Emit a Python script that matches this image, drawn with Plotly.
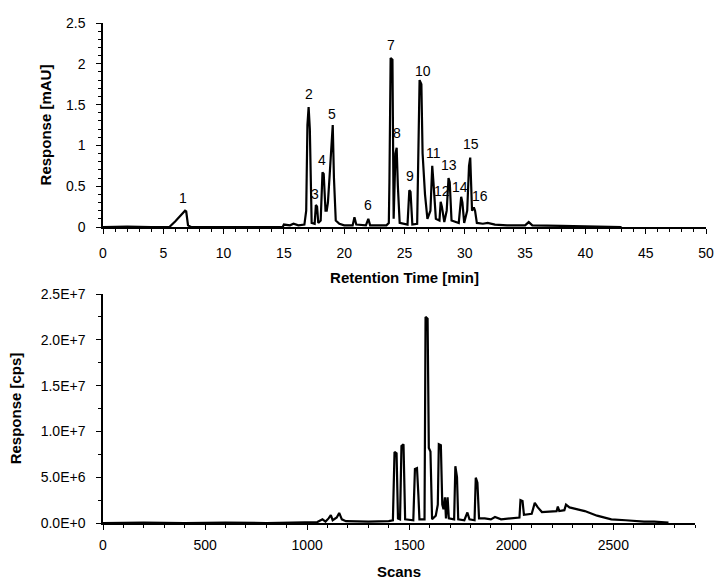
import plotly.graph_objects as go

# UV chromatogram (top panel): retention time [min] vs response [mAU]
uv_time = [0, 2, 4, 5.5, 6.0, 6.5, 6.8, 6.9, 7.05, 7.3, 10, 14.9, 15.0, 15.5, 15.8, 16.2, 16.7,
           16.85, 16.95, 17.05, 17.15, 17.3, 17.55, 17.65, 17.75, 17.85, 18.05, 18.2, 18.3, 18.45,
           18.55, 18.65, 18.8, 18.95, 19.05, 19.15, 19.3, 19.6, 20.0, 20.7, 20.85, 21.0, 21.8, 22.0,
           22.15, 23.5, 23.7, 23.75, 23.85, 24.0, 24.1, 24.25, 24.35, 24.45, 24.6, 25.25, 25.4, 25.5,
           25.65, 26.05, 26.25, 26.4, 26.5, 26.7, 26.9, 27.15, 27.3, 27.4, 27.6, 27.9, 28.0, 28.1,
           28.3, 28.5, 28.65, 28.75, 28.9, 29.5, 29.7, 29.8, 29.95, 30.2, 30.35, 30.45, 30.6, 30.75,
           30.85, 31.0, 31.5, 31.9, 32.5, 33.5, 35.0, 35.3, 35.6, 38, 39, 43]
uv_resp = [0, 0.005, 0, 0, 0.07, 0.15, 0.2, 0.19, 0.02, 0, 0, 0, 0.03, 0.02, 0.04, 0.02, 0.03,
           0.2, 1.25, 1.47, 1.2, 0.05, 0.04, 0.27, 0.25, 0.05, 0.08, 0.67, 0.65, 0.2,
           0.2, 0.3, 0.65, 1.1, 1.25, 0.6, 0.08, 0.04, 0.02, 0.02, 0.12, 0.03, 0.02, 0.1,
           0.02, 0.02, 0.05, 0.55, 2.07, 2.05, 0.1, 0.9, 0.97, 0.5, 0.05, 0.03, 0.45, 0.43,
           0.03, 0.04, 1.8, 1.75, 0.9, 0.4, 0.1, 0.2, 0.75, 0.55, 0.1, 0.08, 0.31, 0.25,
           0.06, 0.2, 0.6, 0.55, 0.08, 0.05, 0.37, 0.3, 0.05, 0.2, 0.75, 0.85, 0.2, 0.24,
           0.2, 0.05, 0.04, 0.05, 0.03, 0.02, 0.02, 0.06, 0.02, 0.015, 0.01, 0]

# peak numbers and where they are written
peak_num = ["1", "2", "3", "4", "5", "6", "7", "8", "9", "10", "11", "12", "13", "14", "15", "16"]
peak_x = [6.65, 17.05, 17.6, 18.2, 19.0, 22.0, 23.85, 24.35, 25.45, 26.5, 27.4, 28.1, 28.7, 29.6, 30.5, 31.3]
peak_y = [0.35, 1.63, 0.40, 0.82, 1.39, 0.27, 2.23, 1.15, 0.63, 1.91, 0.91, 0.44, 0.76, 0.49, 1.02, 0.38]

# MS total ion trace (bottom panel): scan number vs response [cps]
ms_scan = [0, 200, 400, 600, 800, 1000, 1050, 1075, 1090, 1105, 1116, 1125, 1145, 1157, 1170, 1190,
           1300, 1400, 1420, 1428, 1438, 1445, 1455, 1462, 1472, 1480, 1520, 1528, 1538, 1545, 1550,
           1575, 1580, 1590, 1596, 1604, 1612, 1630, 1640, 1645, 1655, 1662, 1668, 1675, 1680, 1688,
           1694, 1720, 1726, 1734, 1740, 1770, 1785, 1795, 1820, 1826, 1834, 1842, 1870, 1900, 1920,
           1950, 2000, 2040, 2045, 2055, 2062, 2100, 2115, 2130, 2150, 2200, 2222, 2228, 2235, 2260,
           2268, 2285, 2320, 2360, 2420, 2490, 2560, 2650, 2700, 2770]
ms_resp = [0, 0.05e6, 0, 0.05e6, 0, 0.05e6, 0.1e6, 0.4e6, 0.15e6, 0.5e6, 0.85e6, 0.3e6, 0.6e6, 1.1e6, 0.4e6, 0.2e6,
           0.15e6, 0.2e6, 0.3e6, 7.75e6, 7.6e6, 0.5e6, 0.4e6, 8.4e6, 8.6e6, 0.4e6, 0.3e6, 5.9e6, 6.0e6, 3e6, 0.4e6,
           0.4e6, 22.5e6, 22.3e6, 8.2e6, 7.8e6, 0.4e6, 0.8e6, 2e6, 8.6e6, 8.5e6, 2e6, 1.5e6, 2.8e6, 0.5e6, 2.8e6,
           0.5e6, 0.4e6, 6.2e6, 5e6, 0.4e6, 0.3e6, 1.15e6, 0.4e6, 0.3e6, 4.95e6, 4.4e6, 0.5e6, 0.5e6, 0.4e6, 0.65e6,
           0.4e6, 0.5e6, 0.6e6, 2.5e6, 2.4e6, 0.9e6, 1.0e6, 2.2e6, 1.7e6, 1.2e6, 1.3e6, 1.3e6, 1.8e6, 1.3e6, 1.4e6,
           2.0e6, 1.7e6, 1.5e6, 1.3e6, 0.8e6, 0.4e6, 0.3e6, 0.15e6, 0.15e6, 0.05e6]

ms_tickvals = [0, 5e6, 1e7, 1.5e7, 2e7, 2.5e7]
ms_ticktext = ["0.0E+0", "5.0E+6", "1.0E+7", "1.5E+7", "2.0E+7", "2.5E+7"]

FONT = "Arial, Liberation Sans, sans-serif"

fig = go.Figure()
fig.add_trace(go.Scatter(x=uv_time, y=uv_resp, mode="lines", line=dict(color="black", width=2.2),
                         xaxis="x", yaxis="y", showlegend=False, hoverinfo="skip"))
fig.add_trace(go.Scatter(x=ms_scan, y=ms_resp, mode="lines", line=dict(color="black", width=2.2),
                         xaxis="x2", yaxis="y2", showlegend=False, hoverinfo="skip"))

for n, px, py in zip(peak_num, peak_x, peak_y):
    fig.add_annotation(x=px, y=py, xref="x", yref="y", text=n, showarrow=False,
                       font=dict(family=FONT, size=14, color="black"))

axis_common = dict(showline=True, linecolor="black", linewidth=1.5, showgrid=False, zeroline=False,
                   ticks="outside", tickcolor="black", ticklen=5, tickwidth=1.2, automargin=False,
                   tickfont=dict(family=FONT, size=14, color="black"))

fig.update_layout(
    width=716, height=581,
    margin=dict(l=103, r=10, t=23, b=58),
    paper_bgcolor="white", plot_bgcolor="white",
    xaxis=dict(domain=[0, 1], anchor="y", range=[0, 50], dtick=5, ticklabelstandoff=7,
               minor=dict(dtick=1, ticks="outside", ticklen=3, tickcolor="black"),
               title=dict(text="<b>Retention Time [min]</b>", standoff=13,
                          font=dict(family=FONT, size=15, color="black")),
               **axis_common),
    yaxis=dict(domain=[0.592, 1], anchor="x", range=[0, 2.5], dtick=0.5, ticklabelstandoff=8,
               minor=dict(dtick=0.1, ticks="outside", ticklen=3, tickcolor="black"),
               title=dict(text="<b>Response [mAU]</b>", standoff=11,
                          font=dict(family=FONT, size=15, color="black")),
               **axis_common),
    xaxis2=dict(domain=[0, 0.9818], anchor="y2", range=[0, 2900], dtick=500, ticklabelstandoff=3,
                minor=dict(dtick=100, ticks="outside", ticklen=3, tickcolor="black"),
                title=dict(text="<b>Scans</b>", standoff=15,
                           font=dict(family=FONT, size=15, color="black")),
                **axis_common),
    yaxis2=dict(domain=[0, 0.458], anchor="x2", range=[0, 2.5e7], ticklabelstandoff=8,
                tickvals=ms_tickvals, ticktext=ms_ticktext,
                minor=dict(dtick=2.5e6, ticks="outside", ticklen=3, tickcolor="black"),
                title=dict(text="<b>Response [cps]</b>", standoff=15,
                           font=dict(family=FONT, size=15, color="black")),
                **axis_common),
)

# drop the browser's default body margin so the figure fills the window exactly
fig.write_html("out.html", config={"displayModeBar": False},
               post_script="document.body.style.margin='0';document.body.style.overflow='hidden';")
